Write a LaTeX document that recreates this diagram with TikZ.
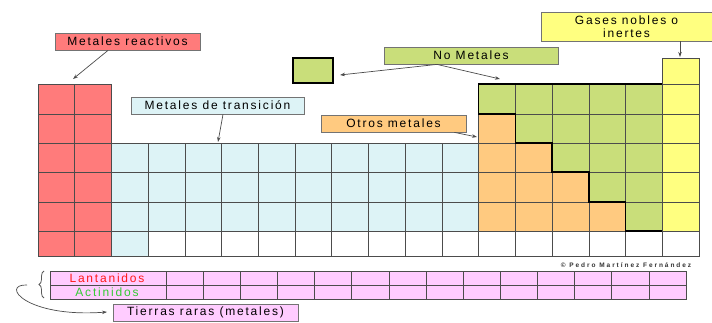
\documentclass[tikz,border=0pt]{standalone}
\usepackage{fontspec}
\setmainfont{Liberation Sans}
\newfontfamily\lblfont[LetterSpace=15]{Liberation Sans}
\newfontfamily\firmafont[LetterSpace=30]{Liberation Sans}
\usetikzlibrary{arrows.meta,decorations.pathreplacing}

\definecolor{colRojo}{HTML}{FF7B7B}
\definecolor{colCian}{HTML}{DDF3F6}
\definecolor{colNaranja}{HTML}{FFCA80}
\definecolor{colVerde}{HTML}{C9DE7A}
\definecolor{colAmarillo}{HTML}{FFFF80}
\definecolor{colRosa}{HTML}{FFCCFF}

\tikzset{
  cell/.style={draw=black!70, line width=0.6pt},
  tagbox/.style={draw=black!55, line width=0.8pt, inner sep=0pt, minimum height=17pt,
    font=\lblfont\fontsize{12}{13}\selectfont},
  pointer/.style={draw=black!70, line width=0.7pt, -{Stealth[length=5pt,width=3.5pt]}},
}

% row boundaries (pixels, downwards)
\def\rowy{{0,58,84,114,143,172,202,231,256}}
% one cell of the table: column, row, colour
\newcommand{\cellbox}[3]{%
  \pgfmathsetmacro{\xa}{38+36.72*(#1-1)}
  \pgfmathsetmacro{\xb}{\xa+36.72}
  \pgfmathsetmacro{\ya}{\rowy[#2]}
  \pgfmathsetmacro{\yb}{\rowy[#2+1]}
  \draw[cell,fill=#3] (\xa,\ya) rectangle (\xb,\yb);
}

\begin{document}
\begin{tikzpicture}[x=1pt,y=-1pt]
\useasboundingbox (0,0) rectangle (712,323);

% Metales reactivos
\foreach \c in {1,2} \foreach \r in {2,...,7} {\cellbox{\c}{\r}{colRojo}}

% Metales de transicion
\foreach \r in {4,...,7} {\cellbox{3}{\r}{colCian}}
\foreach \c in {4,...,12} \foreach \r in {4,5,6} {\cellbox{\c}{\r}{colCian}}

% Last row, empty
\foreach \c in {4,...,18} {\cellbox{\c}{7}{white}}

% Otros metales and no metales (staircase)
\foreach \r in {2,...,6} \foreach \c in {13,...,17} {
  \ifnum\c>\numexpr\r+10\relax
    \cellbox{\c}{\r}{colVerde}
  \else
    \cellbox{\c}{\r}{colNaranja}
  \fi
}
\draw[line width=1.4pt] (478.64,84) -- (662.24,84) -- (662.24,231) -- (625.52,231)
  -- (625.52,202) -- (588.8,202) -- (588.8,172) -- (552.08,172) -- (552.08,143)
  -- (515.36,143) -- (515.36,114) -- (478.64,114) -- cycle;

% Gases nobles
\foreach \r in {1,...,6} {\cellbox{18}{\r}{colAmarillo}}

% Hidrogeno
\node[draw, line width=1.4pt, fill=colVerde, minimum width=40pt, minimum height=25pt,
  inner sep=0pt] (hidrogeno) at (313,70.5) {};

% Lantanidos y actinidos
\foreach \ya in {271,285} {
  \draw[cell,fill=colRosa] (50,\ya) rectangle (166,\ya+14);
  \foreach \k in {0,...,13}
    \draw[cell,fill=colRosa] (166+37.14*\k,\ya) rectangle (203.14+37.14*\k,\ya+14);
}
\node[font=\lblfont\fontsize{12}{12}\selectfont, text=red!90] (lantanidos) at (107,278) {Lantanidos};
\node[font=\lblfont\fontsize{12}{12}\selectfont, text=green!75!black!80] (actinidos) at (107,292) {Actinidos};
\draw[decorate, decoration={brace,amplitude=5pt}, draw=black!65, line width=0.8pt] (44,298) -- (44,271);

% Labels
\node[tagbox, fill=colRojo, minimum width=145pt] (reactivos) at (127.5,41.5) {Metales reactivos};
\node[tagbox, fill=colCian, minimum width=173pt] (transicion) at (217.5,105.5) {Metales de transición};
\node[tagbox, fill=colVerde, minimum width=174pt] (nometales) at (471,55.5) {No Metales};
\node[tagbox, fill=colNaranja, minimum width=145pt] (otros) at (393.5,123.5) {Otros metales};
\node[tagbox, fill=colAmarillo, minimum width=171pt, minimum height=29pt, align=center] (gases) at (626.5,26.5) {Gases nobles o\\inertes};
\node[tagbox, fill=colRosa, minimum width=185pt] (tierras) at (205.5,312.5) {Tierras raras (metales)};
\node[font=\firmafont\fontsize{6.5}{7}\selectfont\bfseries, text=black!80] (firma) at (626,265) {© Pedro Martínez Fernández};

% Arrow ends
\coordinate (puntaRojo) at (73,79);
\coordinate (puntaCian) at (218,142);
\coordinate (puntaH) at (340,75);
\coordinate (puntaVerde) at (500,79);
\coordinate (puntaNaranja) at (477,137);
\coordinate (puntaGases) at (680,57);
\coordinate (llave) at (27,285);
\coordinate (puntaTierras) at (107,312);

% Arrows
\draw[pointer] ([xshift=-19.5pt]reactivos.south) -- (puntaRojo);
\draw[pointer] ([xshift=5.5pt]transicion.south) -- (puntaCian);
\draw[pointer] ([xshift=-34pt]nometales.south) -- (puntaH);
\draw[pointer] ([xshift=-34pt]nometales.south) -- (puntaVerde);
\draw[pointer] ([xshift=-12pt]otros.south east) -- (puntaNaranja);
\draw[pointer] ([xshift=53.5pt]gases.south) -- (puntaGases);
\draw[pointer] (llave) .. controls (0,284) and (25,318) .. (puntaTierras);

\end{tikzpicture}
\end{document}
